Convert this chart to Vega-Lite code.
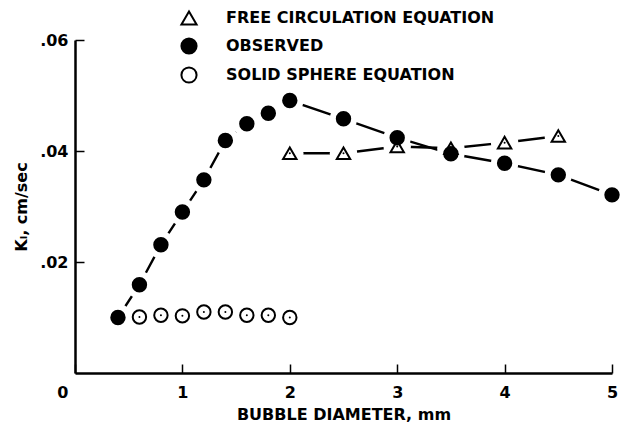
{
  "$schema": "https://vega.github.io/schema/vega-lite/v6.json",
  "autosize": {"type": "none"},
  "width": 537,
  "height": 333,
  "padding": {"left": 75, "top": 40, "right": 8, "bottom": 61},
  "background": "white",
  "config": {
    "view": {"stroke": null},
    "font": "DejaVu Sans",
    "axis": {"domainColor": "black", "domainWidth": 2.5, "tickColor": "black", "tickWidth": 1.5, "tickSize": -9, "grid": false, "labelColor": "black", "titleColor": "black", "labelFontSize": 16, "titleFontSize": 16, "labelFontWeight": "bold", "titleFontWeight": "bold", "labelFont": "DejaVu Sans", "titleFont": "DejaVu Sans"}
  },
  "data": {"values": [
    {"series": "FREE CIRCULATION EQUATION", "d": 2.0, "k": 0.0396},
    {"series": "FREE CIRCULATION EQUATION", "d": 2.5, "k": 0.0396},
    {"series": "FREE CIRCULATION EQUATION", "d": 3.0, "k": 0.0408},
    {"series": "FREE CIRCULATION EQUATION", "d": 3.5, "k": 0.0405},
    {"series": "FREE CIRCULATION EQUATION", "d": 4.0, "k": 0.0415},
    {"series": "FREE CIRCULATION EQUATION", "d": 4.5, "k": 0.0427},
    {"series": "OBSERVED", "d": 0.4, "k": 0.0100},
    {"series": "OBSERVED", "d": 0.6, "k": 0.0159},
    {"series": "OBSERVED", "d": 0.8, "k": 0.0231},
    {"series": "OBSERVED", "d": 1.0, "k": 0.0290},
    {"series": "OBSERVED", "d": 1.2, "k": 0.0348},
    {"series": "OBSERVED", "d": 1.4, "k": 0.0419},
    {"series": "OBSERVED", "d": 1.6, "k": 0.0449},
    {"series": "OBSERVED", "d": 1.8, "k": 0.0468},
    {"series": "OBSERVED", "d": 2.0, "k": 0.0491},
    {"series": "OBSERVED", "d": 2.5, "k": 0.0458},
    {"series": "OBSERVED", "d": 3.0, "k": 0.0424},
    {"series": "OBSERVED", "d": 3.5, "k": 0.0395},
    {"series": "OBSERVED", "d": 4.0, "k": 0.0378},
    {"series": "OBSERVED", "d": 4.5, "k": 0.0357},
    {"series": "OBSERVED", "d": 5.0, "k": 0.0321},
    {"series": "SOLID SPHERE EQUATION", "d": 0.6, "k": 0.0101},
    {"series": "SOLID SPHERE EQUATION", "d": 0.8, "k": 0.0104},
    {"series": "SOLID SPHERE EQUATION", "d": 1.0, "k": 0.0103},
    {"series": "SOLID SPHERE EQUATION", "d": 1.2, "k": 0.0110},
    {"series": "SOLID SPHERE EQUATION", "d": 1.4, "k": 0.0110},
    {"series": "SOLID SPHERE EQUATION", "d": 1.6, "k": 0.0104},
    {"series": "SOLID SPHERE EQUATION", "d": 1.8, "k": 0.0104},
    {"series": "SOLID SPHERE EQUATION", "d": 2.0, "k": 0.0100}
  ]},
  "encoding": {
    "x": {"field": "d", "type": "quantitative", "scale": {"domain": [0, 5], "nice": false},
      "axis": {"values": [0, 1, 2, 3, 4, 5], "format": "d", "title": "BUBBLE DIAMETER, mm", "labelPadding": 20, "titlePadding": 6,
        "labelOffset": {"condition": {"test": "datum.value == 0", "value": -7}, "value": 0},
        "labelAlign": {"condition": {"test": "datum.value == 0", "value": "right"}, "value": "center"}}},
    "y": {"field": "k", "type": "quantitative", "scale": {"domain": [0, 0.06], "nice": false},
      "axis": {"values": [0.02, 0.04, 0.06], "labelExpr": "replace(format(datum.value, '.2f'), '0.', '.')", "title": "Kₗ, cm/sec", "labelPadding": 16, "titlePadding": 10}}
  },
  "layer": [
    {
      "transform": [{"filter": "datum.series != 'SOLID SPHERE EQUATION'"}],
      "mark": {"type": "line", "color": "black", "strokeWidth": 2.4},
      "encoding": {"detail": {"field": "series"}}
    },
    {
      "transform": [{"filter": "datum.series != 'SOLID SPHERE EQUATION'"}],
      "mark": {"type": "point", "filled": true, "color": "white", "opacity": 1, "size": 750, "shape": "circle"}
    },
    {
      "mark": {"type": "point", "strokeWidth": 2, "opacity": 1, "size": 180},
      "encoding": {
        "shape": {"field": "series", "type": "nominal", "scale": {"domain": ["FREE CIRCULATION EQUATION", "OBSERVED", "SOLID SPHERE EQUATION"], "range": ["triangle-up", "circle", "circle"]}, "legend": {"title": null, "orient": "none", "legendX": 105, "legendY": -31, "labelFontSize": 16, "labelFontWeight": "bold", "labelColor": "black", "labelLimit": 400, "symbolSize": 230, "symbolStrokeWidth": 2, "rowPadding": 5, "labelOffset": 28, "labelFont": "DejaVu Sans"}},
        "fill": {"field": "series", "type": "nominal", "scale": {"domain": ["FREE CIRCULATION EQUATION", "OBSERVED", "SOLID SPHERE EQUATION"], "range": ["white", "black", "white"]}, "legend": {"title": null, "orient": "none", "legendX": 105, "legendY": -31, "labelFontSize": 16, "labelFontWeight": "bold", "labelColor": "black", "labelLimit": 400, "symbolSize": 230, "symbolStrokeWidth": 2, "rowPadding": 5, "labelOffset": 28, "labelFont": "DejaVu Sans"}},
        "stroke": {"field": "series", "type": "nominal", "scale": {"domain": ["FREE CIRCULATION EQUATION", "OBSERVED", "SOLID SPHERE EQUATION"], "range": ["black", "black", "black"]}, "legend": {"title": null, "orient": "none", "legendX": 105, "legendY": -31, "labelFontSize": 16, "labelFontWeight": "bold", "labelColor": "black", "labelLimit": 400, "symbolSize": 230, "symbolStrokeWidth": 2, "rowPadding": 5, "labelOffset": 28, "labelFont": "DejaVu Sans"}}
      }
    },
    {
      "transform": [{"filter": "datum.series != 'OBSERVED'"}],
      "mark": {"type": "point", "filled": true, "color": "black", "opacity": 1, "size": 4, "shape": "circle"}
    }
  ]
}
